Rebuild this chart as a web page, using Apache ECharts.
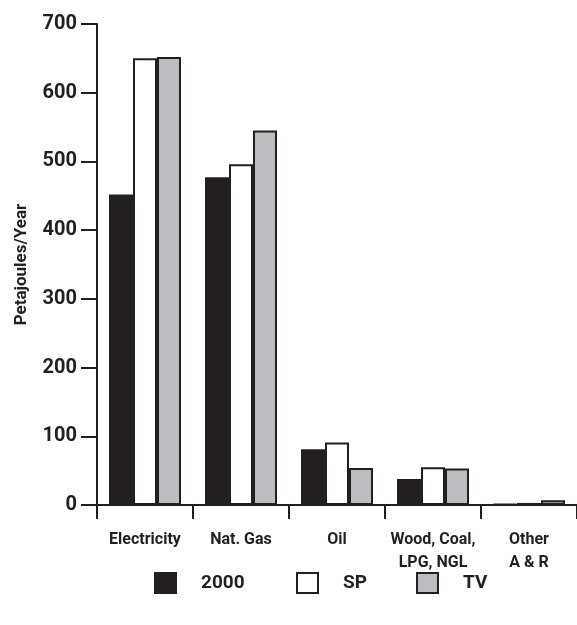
<!DOCTYPE html>
<html>
<head>
<meta charset="utf-8">
<script src="https://cdn.jsdelivr.net/npm/echarts@6/dist/echarts.min.js"></script>
<style>
  html, body { margin: 0; padding: 0; background: #fff; }
  #chart { width: 577px; height: 625px; }
</style>
</head>
<body>
<div id="chart"></div>
<script>
const categories = ['Electricity', 'Nat. Gas', 'Oil', 'Wood, Coal,\nLPG, NGL', 'Other\nA & R']
const values2000 = [452, 477, 81, 38, 1.5]
const valuesSP = [650, 496, 91, 55, 3]
const valuesTV = [652, 545, 54, 53, 7]
const yTicks = { min: 0, max: 700, interval: 100 }

const dark = '#231f20'
const grey = '#bcbdc0'
const font = "Roboto, 'DejaVu Sans Condensed', sans-serif"

const myChart = echarts.init(document.getElementById('chart'))

const barStyle = (color) => ({
  color: color,
  borderColor: dark,
  borderWidth: 2
})

// one legend per entry so the gaps can follow the picture
const legendAt = (name, left) => ({
  data: [name],
  left: left,
  top: 572,
  padding: 0,
  icon: 'rect',
  itemWidth: 21,
  itemHeight: 20,
  textStyle: {
    fontFamily: font,
    fontWeight: 'bold',
    fontSize: 19,
    color: dark,
    padding: [0, 0, 0, 20]
  }
})

const option = {
  animation: false,
  grid: {
    left: 97,
    right: 0,
    top: 24,
    bottom: 120
  },
  legend: [
    legendAt('2000', 154),
    legendAt('SP', 296),
    legendAt('TV', 416)
  ],
  xAxis: {
    type: 'category',
    data: categories,
    axisLine: { show: true, lineStyle: { color: dark, width: 2 } },
    axisTick: { show: true, length: 14, alignWithLabel: false, interval: 0, lineStyle: { color: dark, width: 2 } },
    axisLabel: {
      interval: 0,
      margin: 23,
      fontFamily: font,
      fontWeight: 'bold',
      fontSize: 16,
      lineHeight: 23,
      color: dark
    }
  },
  yAxis: {
    type: 'value',
    min: yTicks.min,
    max: yTicks.max,
    interval: yTicks.interval,
    name: 'Petajoules/Year',
    nameLocation: 'middle',
    nameGap: 67,
    nameTextStyle: {
      fontFamily: font,
      fontWeight: 'bold',
      fontSize: 17,
      color: dark
    },
    splitLine: { show: false },
    axisLine: { show: true, lineStyle: { color: dark, width: 2 } },
    axisTick: { show: true, length: 16, lineStyle: { color: dark, width: 2 } },
    axisLabel: {
      margin: 20,
      fontFamily: font,
      fontWeight: 'bold',
      fontSize: 20,
      color: dark
    }
  },
  series: [
    {
      name: '2000',
      type: 'bar',
      data: values2000,
      barWidth: 24,
      barGap: '0%',
      itemStyle: barStyle(dark)
    },
    {
      name: 'SP',
      type: 'bar',
      data: valuesSP,
      barWidth: 24,
      barGap: '0%',
      itemStyle: barStyle('#ffffff')
    },
    {
      name: 'TV',
      type: 'bar',
      data: valuesTV,
      barWidth: 24,
      barGap: '0%',
      itemStyle: barStyle(grey)
    }
  ]
}

myChart.setOption(option)
</script>
</body>
</html>
